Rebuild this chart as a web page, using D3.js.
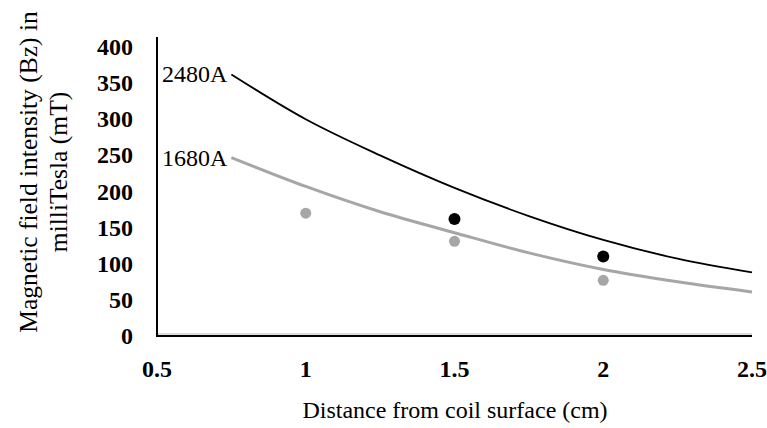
<!DOCTYPE html>
<html>
<head>
<meta charset="utf-8">
<script src="https://cdn.jsdelivr.net/npm/d3@7"></script>
<style>
  body { margin: 0; background: #fff; }
  text { font-family: "Liberation Serif", "Times New Roman", serif; fill: #000; }
</style>
</head>
<body>
<div id="vis"></div>
<script>
// distance (cm) for the model curves
var curveX = [0.75, 1, 1.25, 1.5, 1.75, 2, 2.25, 2.5];
var curve2480 = [362, 300, 250, 205, 166, 133, 107, 88];
var curve1680 = [247, 207, 172, 143, 115, 92, 75, 61];

// measured points
var pointsX2480 = [1.5, 2];
var points2480 = [162, 110];
var pointsX1680 = [1, 1.5, 2];
var points1680 = [170, 131, 77];

var xTicks = [0.5, 1, 1.5, 2, 2.5];
var yTicks = [0, 50, 100, 150, 200, 250, 300, 350, 400];

var width = 767, height = 428;
var margin = {top: 47, right: 15, bottom: 92, left: 157};

var svg = d3.select("#vis")
    .append("svg")
    .attr("width", width)
    .attr("height", height);

var x = d3.scaleLinear()
    .domain([0.5, 2.5])
    .range([margin.left, 752]);

var y = d3.scaleLinear()
    .domain([0, 400])
    .range([height - margin.bottom, margin.top]);

var gray = "#a6a6a6";

// y tick labels
svg.append("g")
  .selectAll("text")
  .data(yTicks)
  .enter()
  .append("text")
    .attr("x", 133)
    .attr("y", function(d) { return y(d) + 8; })
    .attr("text-anchor", "end")
    .attr("font-size", 24)
    .attr("font-weight", "bold")
    .text(function(d) { return d; });

// x tick labels
svg.append("g")
  .selectAll("text")
  .data(xTicks)
  .enter()
  .append("text")
    .attr("x", x)
    .attr("y", 377)
    .attr("text-anchor", "middle")
    .attr("font-size", 24)
    .attr("font-weight", "bold")
    .text(function(d) { return d; });

// axis lines
svg.append("line")
    .attr("x1", x(0.5)).attr("x2", x(2.5))
    .attr("y1", y(0) - 2).attr("y2", y(0) - 2)
    .attr("stroke", "#d0d0d0").attr("stroke-width", 1.5);
svg.append("line")
    .attr("x1", x(0.5)).attr("x2", x(2.5))
    .attr("y1", y(0)).attr("y2", y(0))
    .attr("stroke", "#000").attr("stroke-width", 2);
svg.append("line")
    .attr("x1", x(0.5)).attr("x2", x(0.5))
    .attr("y1", 37).attr("y2", y(0) + 1)
    .attr("stroke", "#000").attr("stroke-width", 2);

var line = d3.line()
    .x(function(d) { return x(d[0]); })
    .y(function(d) { return y(d[1]); })
    .curve(d3.curveMonotoneX);

svg.append("path")
    .datum(d3.zip(curveX, curve1680))
    .attr("d", line)
    .attr("fill", "none")
    .attr("stroke", gray)
    .attr("stroke-width", 3);

svg.append("path")
    .datum(d3.zip(curveX, curve2480))
    .attr("d", line)
    .attr("fill", "none")
    .attr("stroke", "#000")
    .attr("stroke-width", 1.8);

svg.append("g")
  .selectAll("circle")
  .data(d3.zip(pointsX1680, points1680))
  .enter()
  .append("circle")
    .attr("cx", function(d) { return x(d[0]); })
    .attr("cy", function(d) { return y(d[1]); })
    .attr("r", 5.5)
    .attr("fill", gray);

svg.append("g")
  .selectAll("circle")
  .data(d3.zip(pointsX2480, points2480))
  .enter()
  .append("circle")
    .attr("cx", function(d) { return x(d[0]); })
    .attr("cy", function(d) { return y(d[1]); })
    .attr("r", 6)
    .attr("fill", "#000");

// series labels
svg.append("text")
    .attr("x", x(curveX[0]) - 4)
    .attr("y", y(curve2480[0]) + 8)
    .attr("text-anchor", "end")
    .attr("font-size", 24)
    .text("2480A");
svg.append("text")
    .attr("x", x(curveX[0]) - 4)
    .attr("y", y(curve1680[0]) + 8)
    .attr("text-anchor", "end")
    .attr("font-size", 24)
    .text("1680A");

// axis titles
svg.append("text")
    .attr("x", 455)
    .attr("y", 418)
    .attr("text-anchor", "middle")
    .attr("font-size", 24)
    .text("Distance from coil surface (cm)");

var yTitle = svg.append("text")
    .attr("transform", "translate(0,172) rotate(-90)")
    .attr("text-anchor", "middle")
    .attr("font-size", 25.5);
yTitle.append("tspan").attr("x", 0).attr("y", 37).text("Magnetic field intensity (Bz) in");
yTitle.append("tspan").attr("x", 0).attr("y", 67).text("milliTesla (mT)");
</script>
</body>
</html>
